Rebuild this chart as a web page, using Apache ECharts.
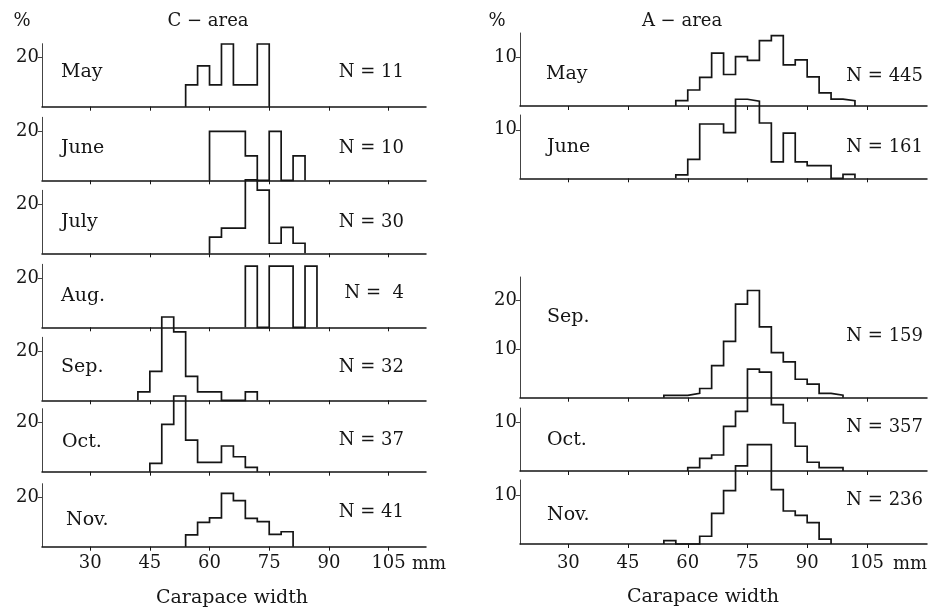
<!DOCTYPE html>
<html><head><meta charset="utf-8">
<script src="https://cdn.jsdelivr.net/npm/echarts@6/dist/echarts.min.js"></script>
<style>html,body{margin:0;padding:0;background:#fff}#c{width:934px;height:613px}</style>
</head><body><div id="c"></div>
<script>
// ---------- data ----------
const binWidth = 3;                       // mm per class
const xTickValues = [30, 45, 60, 75, 90, 105];
const titles = ['C \u2212 area', 'A \u2212 area'];
const xName = 'Carapace width';
const unitX = 'mm';

// C-area (percent per 3-mm class, first class start in mm)
const cMonths = ['May', 'June', 'July', 'Aug.', 'Sep.', 'Oct.', 'Nov.'];
const cN = ['N = 11', 'N = 10', 'N = 30', 'N =  4', 'N = 32', 'N = 37', 'N = 41'];
const cStarts = [54, 60, 60, 69, 42, 45, 54];
const cMay  = [8.9, 16.7, 8.9, 25.6, 8.9, 8.9, 25.6];
const cJune = [20, 20, 20, 10, 0, 20, 0, 10];
const cJuly = [6.6, 10.3, 10.3, 30, 25.8, 4.1, 10.6, 4.1];
const cAug  = [25, 0, 25, 25, 0, 25];
const cSep  = [3.4, 11.8, 34, 27.9, 9.8, 3.4, 3.4, 0, 0, 3.4];
const cOct  = [3.4, 19.3, 30.9, 12.9, 3.8, 3.8, 10.5, 6.1, 1.8];
const cNov  = [4.8, 9.9, 11.8, 21.8, 18.8, 11.6, 10.2, 5.0, 6.1];
const cValues = [cMay, cJune, cJuly, cAug, cSep, cOct, cNov];
const cYTicks = [20];

// A-area
const aMonths = ['May', 'June', 'Sep.', 'Oct.', 'Nov.'];
const aN = ['N = 445', 'N = 161', 'N = 159', 'N = 357', 'N = 236'];
const aStarts = [57, 57, 54, 60, 54];
const aMay  = [1.1, 3.3, 5.9, 10.9, 6.5, 10.2, 9.4, 13.5, 14.5, 8.5, 9.5, 6.0, 2.7, 1.4, 1.1];
const aJune = [0.7, 3.9, 11.2, 11.2, 9.4, 16.3, 15.9, 11.4, 3.4, 9.3, 3.4, 2.6, 2.6, 0, 0.8];
const aSep  = [0.5, 0.5, 0.9, 1.9, 6.6, 11.6, 19.3, 22.1, 14.6, 9.3, 7.4, 3.8, 2.8, 0.9, 0.5];
const aOct  = [0.7, 2.6, 3.3, 9.2, 12.3, 21.0, 20.4, 13.7, 9.9, 5.1, 1.8, 0.7, 0.7];
const aNov  = [0.7, 0, 0, 1.6, 6.3, 11.0, 16.1, 20.5, 20.5, 11.2, 6.8, 5.9, 4.4, 1.0];
const aValues = [aMay, aJune, aSep, aOct, aNov];
const aYTicks = [[10], [10], [10, 20], [10], [10]];

// ---------- layout ----------
const FONT = '"DejaVu Serif","Liberation Serif",serif';
const INK = '#151515';
const L = {left: 42, right: 426, xMin: 17.9, xMax: 114.4, pxPerPct: 2.45, labelMargin: 8,
  base: [106.7, 180.3, 253.3, 327.3, 400.3, 471.7, 546.7], topH: 63,
  nameX: [61, 61, 61, 61, 61, 62, 66], nameY: [72, 148, 222, 296, 367, 442, 520],
  nX: 404, nY: [72, 148, 222, 293, 367, 440, 512]};
const R = {left: 520, right: 927, xMin: 17.86, xMax: 120.1, pxPerPct: 4.85, labelMargin: 10,
  base: [106, 178.3, 397.7, 471, 544], top: [33, 115, 277, 408, 480],
  nameX: [546, 547, 547, 547, 547], nameY: [74, 147, 317, 440, 515],
  nX: 923, nY: [76, 147, 336, 427, 500]};

function outline(start, vals) {
  const pts = [[start, 0]];
  vals.forEach((v, k) => pts.push([start + k * binWidth, v]));
  pts.push([start + vals.length * binWidth, 0]);
  return pts;
}

const grids = [], xAxes = [], yAxes = [], series = [], graphics = [];
function addPanel(col, top, base, yTicks, start, vals, bottom) {
  const i = grids.length;
  const h = base - top;
  grids.push({left: col.left, width: col.right - col.left, top: top, height: h, containLabel: false});
  xAxes.push({gridIndex: i, type: 'value', min: col.xMin, max: col.xMax,
    axisLine: {show: true, onZero: false, lineStyle: {color: INK, width: 1.5}},
    axisTick: {show: true, inside: false, length: 4, customValues: xTickValues, lineStyle: {color: INK, width: 1}},
    axisLabel: {show: bottom, customValues: xTickValues, fontFamily: FONT, fontSize: 18, color: INK, margin: col.labelMargin},
    splitLine: {show: false}});
  const step = yTicks[0];
  yAxes.push({gridIndex: i, type: 'value', min: 0, max: h / col.pxPerPct, interval: step,
    axisLine: {show: true, lineStyle: {color: '#444', width: 1}},
    axisTick: {show: true, inside: false, length: 4, customValues: yTicks, lineStyle: {color: '#444', width: 1}},
    axisLabel: {customValues: yTicks, fontFamily: FONT, fontSize: 18, color: INK, margin: 3,
      formatter: v => (yTicks.indexOf(Math.round(v * 1000) / 1000) >= 0 ? String(v) : '')},
    splitLine: {show: false}});
  series.push({type: 'line', xAxisIndex: i, yAxisIndex: i, step: 'end', data: outline(start, vals),
    symbol: 'none', showSymbol: false, clip: false, silent: true, animation: false,
    lineStyle: {color: INK, width: 1.7, join: 'miter'}});
}

function txt(text, x, y, align, size) {
  graphics.push({type: 'text', x: x, y: y, silent: true,
    style: {text: text, font: (size || 18) + 'px ' + FONT, fill: INK, align: align, verticalAlign: 'middle'}});
}

cValues.forEach((vals, k) => {
  addPanel(L, L.base[k] - L.topH, L.base[k], cYTicks, cStarts[k], vals, k === cValues.length - 1);
  txt(cMonths[k], L.nameX[k], L.nameY[k], 'left', 19);
  txt(cN[k], L.nX, L.nY[k], 'right', 18);
});
aValues.forEach((vals, k) => {
  addPanel(R, R.top[k], R.base[k], aYTicks[k], aStarts[k], vals, k === aValues.length - 1);
  txt(aMonths[k], R.nameX[k], R.nameY[k], 'left', 19);
  txt(aN[k], R.nX, R.nY[k], 'right', 18);
});

txt(titles[0], 208, 21, 'center', 18);
txt(titles[1], 682, 21, 'center', 18);
txt('%', 22, 21, 'center', 18);
txt('%', 497, 21, 'center', 18);
txt(unitX, 412, 564, 'left', 18);
txt(unitX, 893, 564, 'left', 18);
txt(xName, 232, 598, 'center', 19);
txt(xName, 703, 597, 'center', 19);

const chart = echarts.init(document.getElementById('c'), null, {renderer: 'canvas'});
chart.setOption({
  backgroundColor: '#ffffff',
  animation: false,
  grid: grids, xAxis: xAxes, yAxis: yAxes, series: series, graphic: graphics
});
</script></body></html>
